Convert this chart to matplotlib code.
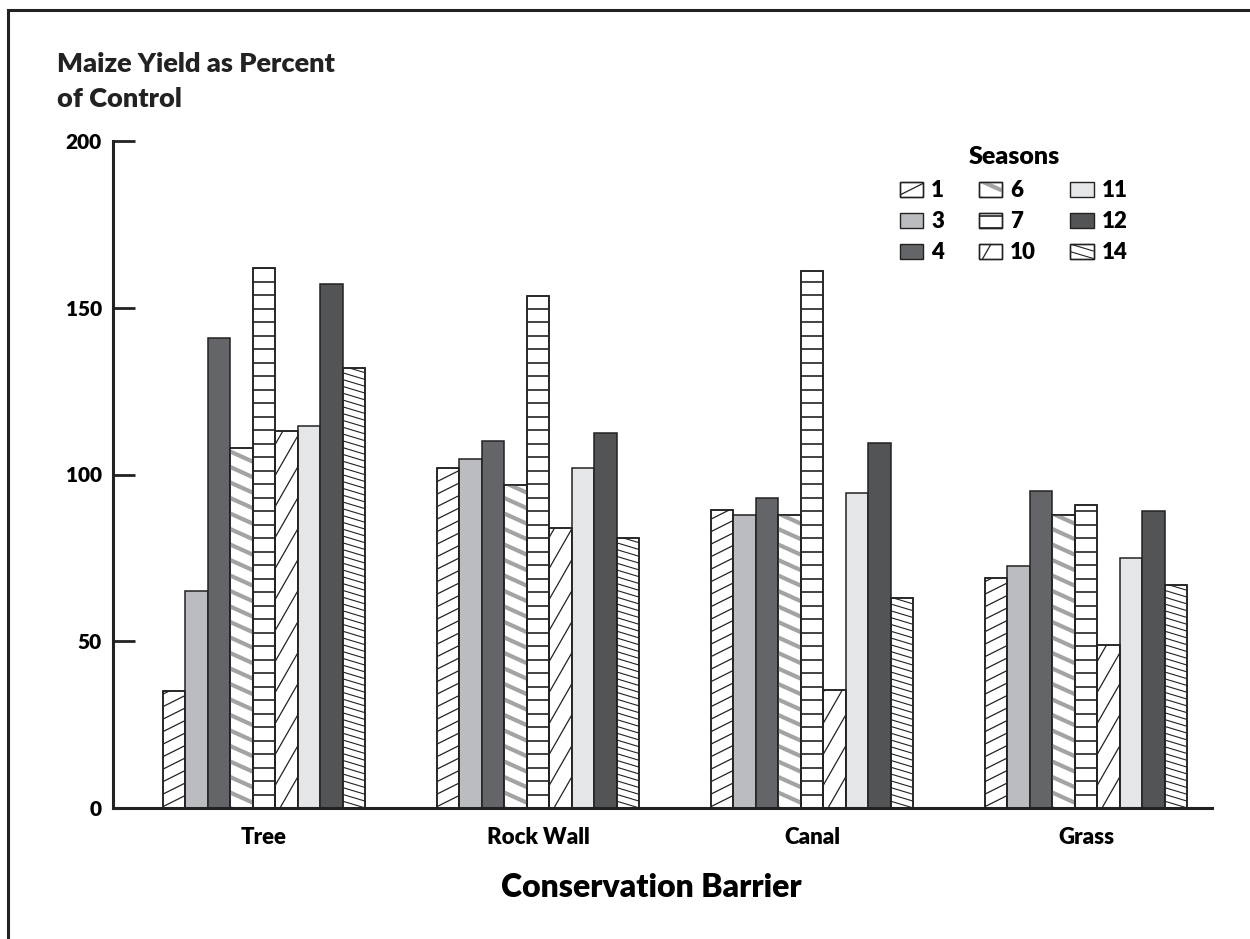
import numpy as np
import matplotlib
matplotlib.use("Agg")
import matplotlib.pyplot as plt
from matplotlib.patches import Rectangle
from matplotlib.collections import LineCollection
from matplotlib.legend_handler import HandlerBase

plt.rcParams['font.family'] = ['Lato', 'DejaVu Sans']
plt.rcParams['font.weight'] = 'heavy'
W = 'heavy'

barriers = ["Tree", "Rock Wall", "Canal", "Grass"]
seasons = ["1", "3", "4", "6", "7", "10", "11", "12", "14"]

s1 = [35, 102, 89.5, 69]
s3 = [65, 104.5, 88, 72.5]
s4 = [141, 110, 93, 95]
s6 = [108, 97, 88, 88]
s7 = [162, 153.5, 161, 91]
s10 = [113, 84, 35.5, 49]
s11 = [114.5, 102, 94.5, 75]
s12 = [157, 112.5, 109.5, 89]
s14 = [132, 81, 63, 67]
values = [s1, s3, s4, s6, s7, s10, s11, s12, s14]

# fill colour and hatch (pixel slope, spacing px, colour, linewidth)
styles = {
    "1": ("white", (0.5, 12.5, "#222222", 0.9)),
    "3": ("#babcbf", None),
    "4": ("#646569", None),
    "6": ("white", (-0.45, 15.5, "#a3a3a3", 3.0)),
    "7": ("white", (0.0, 13.5, "#222222", 1.2)),
    "10": ("white", (1.75, 31, "#222222", 0.9)),
    "11": ("#e5e6e7", None),
    "12": ("#535456", None),
    "14": ("white", (-0.3, 6.8, "#222222", 0.8)),
}

DPI = 100
fig = plt.figure(figsize=(12.5, 9.39), dpi=DPI)
ax = fig.add_axes([113 / 1250, 1 - 808 / 939, 1099 / 1250, 667 / 939])
ax.set_xlim(-0.551, 3.46)
ax.set_ylim(0, 200)

px_x = 1099 / (3.46 + 0.551)
px_y = 667 / 200


def hatch_segments(w_px, h_px, slope, spacing, to_data):
    lo = min(0, -slope * w_px) - spacing
    hi = h_px + max(0, -slope * w_px) + spacing
    segs = []
    for c in np.arange(lo, hi, spacing):
        segs.append([to_data(0, c), to_data(w_px, slope * w_px + c)])
    return segs


width = 22.5 / px_x
x = np.arange(len(barriers))
for i, (name, vals) in enumerate(zip(seasons, values)):
    face, hatch = styles[name]
    bars = ax.bar(x + (i - 4) * width, vals, width, color=face,
                  edgecolor="#222222", linewidth=1.1, zorder=2)
    if hatch is None:
        continue
    slope, spacing, hcol, hlw = hatch
    for b in bars:
        bx, bw, bh = b.get_x(), b.get_width(), b.get_height()
        conv = lambda u, v, bx=bx: (bx + u / px_x, v / px_y)
        segs = hatch_segments(bw * px_x, bh * px_y, slope, spacing, conv)
        lc = LineCollection(segs, colors=hcol, linewidths=hlw, zorder=2.5)
        ax.add_collection(lc)
        lc.set_clip_path(b)
    # outline again on top of the hatch lines
    ax.bar(x + (i - 4) * width, vals, width, fill=False,
           edgecolor="#222222", linewidth=1.1, zorder=3)


class HatchHandler(HandlerBase):
    def create_artists(self, legend, orig_handle, xdescent, ydescent,
                       width, height, fontsize, trans):
        face, hatch = styles[orig_handle.get_label()]
        rect = Rectangle((-xdescent, -ydescent), width, height, facecolor=face,
                         edgecolor="#222222", linewidth=1.0, transform=trans)
        arts = [rect]
        if hatch is not None:
            slope, spacing, hcol, hlw = hatch
            x0, y0 = -xdescent, -ydescent
            conv = lambda u, v: (x0 + u, y0 + v)
            sp = 8.5 if slope == 0 else spacing * 0.8
            segs = hatch_segments(width, height, slope, sp, conv)
            lc = LineCollection(segs, colors=hcol, linewidths=hlw, transform=trans)
            lc.set_clip_path(rect)
            outline = Rectangle((-xdescent, -ydescent), width, height, fill=False,
                                edgecolor="#222222", linewidth=1.0, transform=trans)
            arts += [lc, outline]
        return arts


handles = [Rectangle((0, 0), 1, 1, label=s) for s in seasons]
leg = ax.legend(handles=handles, labels=seasons, ncol=3, frameon=False,
                title="Seasons", title_fontproperties={"size": 18, "weight": W},
                prop={"size": 16, "weight": W},
                handler_map={Rectangle: HatchHandler()},
                handlelength=1.05, handleheight=0.68, handletextpad=0.36,
                columnspacing=1.55, labelspacing=0.45, borderaxespad=0,
                loc="upper left", bbox_to_anchor=(891 / 1250, 1 - 137 / 939),
                bbox_transform=fig.transFigure)
leg._legend_box.sep = 9

for side in ["top", "right"]:
    ax.spines[side].set_visible(False)
for side in ["left", "bottom"]:
    ax.spines[side].set_linewidth(2.2)
    ax.spines[side].set_color("#222222")

ax.set_yticks([0, 50, 100, 150, 200])
ax.tick_params(axis="y", direction="in", length=16, width=2, color="#222222",
               labelsize=15, pad=8)
ax.set_xticks(x)
ax.set_xticklabels(barriers, fontsize=16, fontweight=W)
ax.tick_params(axis="x", length=0, pad=14)
ax.set_xlabel("Conservation Barrier", fontsize=23, fontweight=W, labelpad=18)
ax.xaxis.label.set_x(0.49)
for lab in ax.get_yticklabels():
    lab.set_fontweight(W)

fig.text(57 / 1250, 1 - 52 / 939, "Maize Yield as Percent\nof Control",
         fontsize=19.5, fontweight=W, va="top", ha="left", linespacing=1.55,
         color="#222222")

frame = Rectangle((8 / 1250, -0.05), 1.2, 1 - 10 / 939 + 0.05,
                  transform=fig.transFigure, fill=False, edgecolor="#222222",
                  linewidth=2.2, clip_on=False)
fig.patches.append(frame)

fig.savefig("out.png", dpi=DPI)
